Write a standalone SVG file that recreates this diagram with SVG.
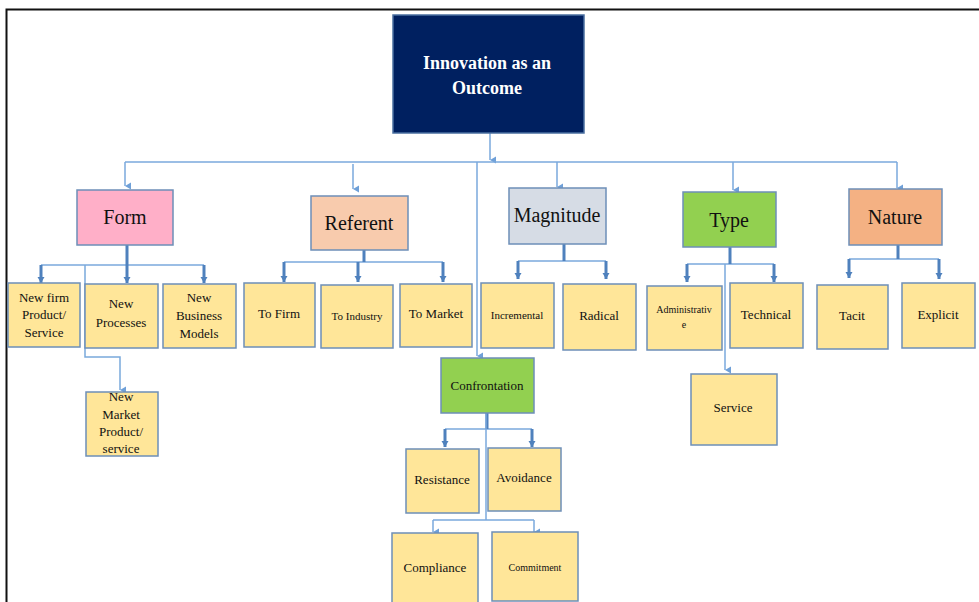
<svg xmlns="http://www.w3.org/2000/svg" width="979" height="602" viewBox="0 0 979 602">
<style>
text{font-family:"Liberation Serif","Times New Roman",serif;fill:#111;text-anchor:middle}
.leaf{fill:#ffe699;stroke:#6d8fb8;stroke-width:1.5}
.cat{stroke:#6d8fb8;stroke-width:1.5}
.c{fill:none;stroke:#7aa9dc;stroke-width:1.5}
.t{fill:none;stroke:#4f81bd;stroke-width:3}
.s{font-size:13px}
.xs{font-size:11px}
.big{font-size:20px}
</style>
<defs>
<marker id="a" markerUnits="userSpaceOnUse" markerWidth="8" markerHeight="8" refX="4" refY="7" orient="auto-start-reverse" viewBox="0 0 8 8">
<path d="M0.5,1 L7.5,1 L4,7 Z" fill="#6fa0d8" transform="rotate(0)"/>
</marker>
<marker id="b" markerUnits="userSpaceOnUse" markerWidth="8" markerHeight="8" refX="4" refY="7" viewBox="0 0 8 8">
<path d="M0.5,1 L7.5,1 L4,7 Z" fill="#4f81bd"/>
</marker>
</defs>
<rect width="979" height="602" fill="#fff"/>
<path d="M6.5,602 V9.5 H979" fill="none" stroke="#111" stroke-width="2"/>

<g id="connectors">
<path class="c" d="M490,133 V160" marker-end="url(#a)"/>
<path class="c" d="M125,162 H897"/>
<path class="c" d="M125,162 V186" marker-end="url(#a)"/>
<path class="c" d="M353,164 V189" marker-end="url(#a)"/>
<path class="c" d="M477,162 V356" marker-end="url(#a)"/>
<path class="c" d="M557,162 V187" marker-end="url(#a)"/>
<path class="c" d="M733,162 V190" marker-end="url(#a)"/>
<path class="c" d="M897,162 V188" marker-end="url(#a)"/>

<path class="c" d="M41,265 H204"/>
<path class="t" d="M127,245 V283" marker-end="url(#b)"/>
<path class="t" d="M41,265 V283" marker-end="url(#b)"/>
<path class="t" d="M204,265 V283" marker-end="url(#b)"/>
<path class="c" d="M85,265 V357 H120 V390" marker-end="url(#a)"/>

<path class="c" d="M284,262 H443"/>
<path class="t" d="M364,250 V262"/>
<path class="t" d="M284,262 V282" marker-end="url(#b)"/>
<path class="t" d="M358,262 V282" marker-end="url(#b)"/>
<path class="t" d="M443,262 V282" marker-end="url(#b)"/>

<path class="c" d="M518,261 H606"/>
<path class="t" d="M564,244 V261"/>
<path class="t" d="M518,261 V279" marker-end="url(#b)"/>
<path class="t" d="M606,261 V279" marker-end="url(#b)"/>

<path class="c" d="M687,264 H774"/>
<path class="t" d="M730,247 V264"/>
<path class="t" d="M687,264 V282" marker-end="url(#b)"/>
<path class="t" d="M774,264 V282" marker-end="url(#b)"/>
<path class="c" d="M725,264 V370" marker-end="url(#a)"/>

<path class="c" d="M849,259 H939"/>
<path class="t" d="M898,245 V259"/>
<path class="t" d="M849,259 V278" marker-end="url(#b)"/>
<path class="t" d="M939,259 V279" marker-end="url(#b)"/>

<path class="c" d="M445,429 H532"/>
<path class="t" d="M487,413 V429"/>
<path class="t" d="M445,429 V447" marker-end="url(#b)"/>
<path class="t" d="M532,429 V447" marker-end="url(#b)"/>
<path class="c" d="M486,413 V520"/>
<path class="c" d="M433,520 H534"/>
<path class="c" d="M433,520 V532" marker-end="url(#a)"/>
<path class="c" d="M534,520 V532" marker-end="url(#a)"/>
</g>

<g id="root">
<rect x="393" y="15" width="191" height="118" fill="#002060" stroke="#4a6fa0" stroke-width="1.5"/>
<text x="487" y="69" style="font-size:18px;font-weight:bold;fill:#fff">Innovation as an</text>
<text x="487" y="94" style="font-size:18px;font-weight:bold;fill:#fff">Outcome</text>
</g>

<g id="form"><rect class="cat" x="77" y="190" width="96" height="55" fill="#ffafc8"/><text class="big" x="125" y="224">Form</text></g>
<g id="referent"><rect class="cat" x="311" y="196" width="97" height="54" fill="#f8cbad"/><text class="big" x="359" y="230">Referent</text></g>
<g id="magnitude"><rect class="cat" x="509" y="188" width="97" height="56" fill="#d6dce5"/><text class="big" x="557" y="222">Magnitude</text></g>
<g id="type"><rect class="cat" x="683" y="192" width="93" height="55" fill="#92d050"/><text class="big" x="729" y="227">Type</text></g>
<g id="nature"><rect class="cat" x="849" y="189" width="93" height="56" fill="#f4b183"/><text class="big" x="895" y="224">Nature</text></g>
<g id="confrontation"><rect class="cat" x="441" y="358" width="93" height="55" fill="#92d050"/><text class="s" x="487" y="390">Confrontation</text></g>

<g id="new-firm"><rect class="leaf" x="8" y="283" width="72" height="64"/>
<text class="s" x="44" y="302">New firm</text><text class="s" x="44" y="319">Product/</text><text class="s" x="44" y="337">Service</text></g>
<g id="new-processes"><rect class="leaf" x="85" y="284" width="73" height="64"/>
<text class="s" x="121" y="308">New</text><text class="s" x="121" y="327">Processes</text></g>
<g id="new-business"><rect class="leaf" x="163" y="284" width="73" height="64"/>
<text class="s" x="199" y="302">New</text><text class="s" x="199" y="320">Business</text><text class="s" x="199" y="338">Models</text></g>
<g id="new-market"><rect class="leaf" x="86" y="392" width="72" height="64"/>
<text class="s" x="121" y="401">New</text><text class="s" x="121" y="419">Market</text><text class="s" x="121" y="436">Product/</text><text class="s" x="121" y="453">service</text></g>

<g id="to-firm"><rect class="leaf" x="244" y="283" width="71" height="64"/><text class="s" x="279" y="318">To Firm</text></g>
<g id="to-industry"><rect class="leaf" x="321" y="285" width="72" height="63"/><text class="xs" x="357" y="320">To Industry</text></g>
<g id="to-market"><rect class="leaf" x="400" y="284" width="72" height="63"/><text class="s" x="436" y="318">To Market</text></g>

<g id="incremental"><rect class="leaf" x="481" y="283" width="73" height="65"/><text class="xs" x="517" y="319">Incremental</text></g>
<g id="radical"><rect class="leaf" x="563" y="284" width="73" height="66"/><text class="s" x="599" y="320">Radical</text></g>

<g id="administrative"><rect class="leaf" x="647" y="286" width="75" height="64"/>
<text x="684" y="313" style="font-size:10px">Administrativ</text><text x="684" y="328" style="font-size:10px">e</text></g>
<g id="technical"><rect class="leaf" x="730" y="283" width="73" height="65"/><text class="s" x="766" y="319">Technical</text></g>
<g id="service"><rect class="leaf" x="691" y="374" width="86" height="71"/><text class="s" x="733" y="412">Service</text></g>

<g id="tacit"><rect class="leaf" x="817" y="285" width="71" height="64"/><text class="s" x="852" y="320">Tacit</text></g>
<g id="explicit"><rect class="leaf" x="902" y="283" width="73" height="65"/><text class="s" x="938" y="319">Explicit</text></g>

<g id="resistance"><rect class="leaf" x="406" y="449" width="73" height="64"/><text class="s" x="442" y="484">Resistance</text></g>
<g id="avoidance"><rect class="leaf" x="488" y="448" width="73" height="63"/><text class="s" x="524" y="482">Avoidance</text></g>
<g id="compliance"><rect class="leaf" x="392" y="533" width="86" height="75"/><text class="s" x="435" y="572">Compliance</text></g>
<g id="commitment"><rect class="leaf" x="492" y="532" width="86" height="69"/><text x="535" y="571" style="font-size:10px">Commitment</text></g>
</svg>
